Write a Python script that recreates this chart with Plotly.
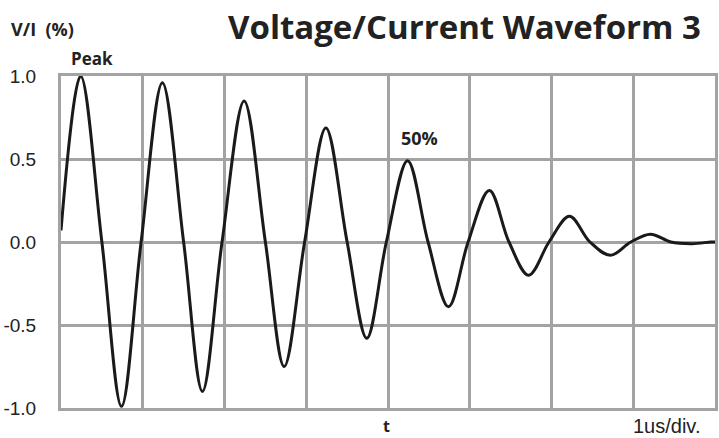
import plotly.graph_objects as go

# time in divisions (1 us/div), value in per-unit
t_vals = [0.0, 0.24, 0.50, 0.74, 0.98, 1.24, 1.50, 1.73, 1.97, 2.24, 2.50, 2.73,
          2.98, 3.24, 3.50, 3.74, 3.98, 4.24, 4.49, 4.74, 4.98, 5.24, 5.48, 5.72,
          5.97, 6.22, 6.47, 6.72, 6.97, 7.21, 7.46, 7.72, 7.95, 8.0]
v_vals = [0.07, 1.0, 0.0, -0.99, 0.0, 0.96, 0.0, -0.90, 0.0, 0.85, 0.0, -0.75,
          0.0, 0.687, 0.0, -0.58, 0.0, 0.49, 0.0, -0.39, 0.0, 0.31, 0.0, -0.20,
          0.0, 0.155, 0.0, -0.08, 0.0, 0.047, 0.0, -0.01, 0.0, 0.0]

y_ticks = [-1.0, -0.5, 0.0, 0.5, 1.0]
y_tick_labels = ["-1.0", "-0.5", "0.0", "0.5", "1.0"]
x_ticks = [0, 1, 2, 3, 4, 5, 6, 7, 8]

W, H = 719, 438
L, R, T, B = 61, 1, 76, 30
pw, ph = W - L - R, H - T - B

def px(x):
    return (x - L) / pw

def py(y):
    return (H - B - y) / ph

grid = "#a3a3a3"
bold_font = "Open Sans"

fig = go.Figure()
fig.add_trace(go.Scatter(
    x=t_vals, y=v_vals, mode="lines",
    line=dict(color="#1a1a1a", width=3, shape="spline", smoothing=1.0),
    hoverinfo="skip", showlegend=False,
))

fig.update_layout(
    width=W, height=H,
    margin=dict(l=L, r=R, t=T, b=B, pad=0),
    paper_bgcolor="white", plot_bgcolor="white",
    xaxis=dict(range=[0, 8], tickvals=x_ticks, showticklabels=False,
               showgrid=True, gridcolor=grid, gridwidth=3,
               zeroline=False, showline=True, linecolor=grid, linewidth=3,
               mirror=True, fixedrange=True),
    yaxis=dict(range=[-1.0, 1.0], tickvals=y_ticks, ticktext=y_tick_labels,
               showgrid=True, gridcolor=grid, gridwidth=3,
               zeroline=False, showline=True, linecolor=grid, linewidth=3,
               mirror=True, ticks="", ticklabelstandoff=18,
               tickfont=dict(family="Liberation Sans", size=19, color="#222222"),
               fixedrange=True),
)

ann = [
    dict(text="<b>Voltage/Current Waveform 3</b>", x=px(227), y=py(27),
         xanchor="left", yanchor="middle",
         font=dict(family=bold_font, size=33, color="#222222")),
    dict(text="<b>V/I  (%)</b>", x=px(9), y=py(29), xanchor="left", yanchor="middle",
         font=dict(family=bold_font, size=18, color="#222222")),
    dict(text="<b>Peak</b>", x=px(69), y=py(58), xanchor="left", yanchor="middle",
         font=dict(family=bold_font, size=17, color="#222222")),
    dict(text="<b>50%</b>", x=px(401), y=py(138), xanchor="left", yanchor="middle",
         font=dict(family=bold_font, size=18, color="#222222")),
    dict(text="<b>t</b>", x=px(388), y=py(426), xanchor="center", yanchor="middle",
         font=dict(family=bold_font, size=16, color="#222222")),
    dict(text="1us/div.", x=px(705), y=py(426), xanchor="right", yanchor="middle",
         font=dict(family="Liberation Sans", size=20, color="#222222")),
]
for a in ann:
    a.update(xref="paper", yref="paper", showarrow=False)
fig.update_layout(annotations=ann)

fig.write_html("out.html", config={"displayModeBar": False},
               post_script="document.body.style.margin='0';")
